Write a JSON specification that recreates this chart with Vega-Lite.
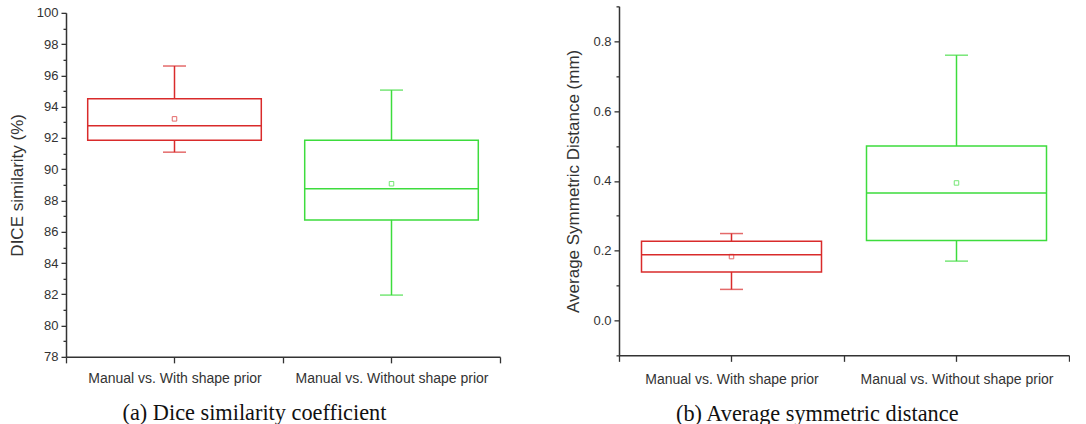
{
  "$schema": "https://vega.github.io/schema/vega-lite/v6.json",
  "background": "white",
  "padding": {"left": 8, "top": 5, "right": 0, "bottom": 0},
  "spacing": 63,
  "center": true,
  "config": {
    "view": {"stroke": null},
    "font": "Liberation Sans",
    "axis": {
      "domainColor": "#333333",
      "domainWidth": 1.5,
      "tickColor": "#333333",
      "tickWidth": 1.3,
      "grid": false,
      "labelColor": "#333333",
      "titleColor": "#333333",
      "labelFont": "Liberation Sans",
      "titleFont": "Liberation Sans",
      "titleFontWeight": "normal",
      "labelOverlap": false,
      "labelLimit": 0
    },
    "title": {"font": "Liberation Serif", "fontSize": 22.3, "fontWeight": "normal", "color": "#111111"}
  },
  "datasets": {
    "dice": [
      {"comparison": "Manual vs. With shape prior", "min": 91.09, "q1": 91.85, "median": 92.78, "q3": 94.5, "max": 96.6, "mean": 93.22},
      {"comparison": "Manual vs. Without shape prior", "min": 81.95, "q1": 86.76, "median": 88.75, "q3": 91.85, "max": 95.06, "mean": 89.07}
    ],
    "asd": [
      {"comparison": "Manual vs. With shape prior", "min": 0.089, "q1": 0.139, "median": 0.188, "q3": 0.227, "max": 0.249, "mean": 0.183},
      {"comparison": "Manual vs. Without shape prior", "min": 0.17, "q1": 0.229, "median": 0.365, "q3": 0.5, "max": 0.76, "mean": 0.394}
    ]
  },
  "hconcat": [
    {
      "width": 434,
      "height": 344,
      "data": {"name": "dice"},
      "title": {"text": "(a) Dice similarity coefficient", "orient": "bottom", "frame": "bounds", "anchor": "middle", "offset": 16},
      "resolve": {"axis": {"x": "independent"}},
      "layer": [
        {
          "mark": {"type": "rule", "strokeWidth": 1.5},
          "encoding": {
            "x": {"field": "comparison", "type": "nominal", "sort": null, "scale": {"paddingInner": 0, "paddingOuter": 0},
              "axis": {"orient": "bottom", "title": null, "labelAngle": 0, "labelFontSize": 14, "labelPadding": 9, "tickBand": "extent", "tickSize": 6}},
            "y": {"field": "min", "type": "quantitative", "scale": {"domain": [78, 100], "nice": false, "zero": false},
              "axis": {"title": "DICE similarity (%)", "titleFontSize": 17, "titlePadding": 10, "labelPadding": 3, "labelOverlap": false, "tickCount": 50,
                "values": [78,79,80,81,82,83,84,85,86,87,88,89,90,91,92,93,94,95,96,97,98,99,100],
                "labelExpr": "datum.value % 2 === 0 ? format(datum.value, 'd') : ''",
                "labelFontSize": {"condition": {"test": "datum.value % 2 === 0", "value": 13}, "value": 0.1},
                "tickSize": {"condition": {"test": "datum.value % 2 === 0", "value": 5}, "value": 3}}},
            "y2": {"field": "q1"},
            "color": {"field": "comparison", "type": "nominal", "sort": null, "scale": {"range": ["#d92b2b", "#3ddc3d"]}, "legend": null}
          }
        },
        {
          "mark": {"type": "rule", "strokeWidth": 1.5},
          "encoding": {
            "x": {"field": "comparison", "type": "nominal", "sort": null,
              "axis": {"orient": "bottom", "title": null, "labels": false, "domain": false, "tickSize": 6}},
            "y": {"field": "q3", "type": "quantitative"},
            "y2": {"field": "max"},
            "color": {"field": "comparison", "type": "nominal", "sort": null, "legend": null}
          }
        },
        {
          "mark": {"type": "tick", "size": 23, "thickness": 1.5},
          "encoding": {
            "x": {"field": "comparison", "type": "nominal", "sort": null, "axis": null},
            "y": {"field": "min", "type": "quantitative"},
            "color": {"field": "comparison", "type": "nominal", "sort": null, "legend": null}
          }
        },
        {
          "mark": {"type": "tick", "size": 23, "thickness": 1.5},
          "encoding": {
            "x": {"field": "comparison", "type": "nominal", "sort": null, "axis": null},
            "y": {"field": "max", "type": "quantitative"},
            "color": {"field": "comparison", "type": "nominal", "sort": null, "legend": null}
          }
        },
        {
          "mark": {"type": "bar", "filled": false, "strokeWidth": 1.5, "width": {"band": 0.8}},
          "encoding": {
            "x": {"field": "comparison", "type": "nominal", "sort": null, "axis": null},
            "y": {"field": "q1", "type": "quantitative"},
            "y2": {"field": "q3"},
            "color": {"field": "comparison", "type": "nominal", "sort": null, "legend": null}
          }
        },
        {
          "mark": {"type": "bar", "filled": false, "strokeWidth": 1.5, "width": {"band": 0.8}},
          "encoding": {
            "x": {"field": "comparison", "type": "nominal", "sort": null, "axis": null},
            "y": {"field": "median", "type": "quantitative"},
            "y2": {"field": "median"},
            "color": {"field": "comparison", "type": "nominal", "sort": null, "legend": null}
          }
        },
        {
          "mark": {"type": "point", "shape": "square", "size": 20, "filled": false, "strokeWidth": 1},
          "encoding": {
            "x": {"field": "comparison", "type": "nominal", "sort": null, "axis": null},
            "y": {"field": "mean", "type": "quantitative"},
            "color": {"field": "comparison", "type": "nominal", "sort": null, "legend": null}
          }
        }
      ]
    },
    {
      "width": 450,
      "height": 349,
      "data": {"name": "asd"},
      "title": {"text": "(b) Average symmetric distance", "subtitle": " ", "subtitleFontSize": 5, "subtitlePadding": 0, "orient": "bottom", "frame": "bounds", "anchor": "middle", "offset": 17},
      "resolve": {"axis": {"x": "independent"}},
      "layer": [
        {
          "mark": {"type": "rule", "strokeWidth": 1.5},
          "encoding": {
            "x": {"field": "comparison", "type": "nominal", "sort": null, "scale": {"paddingInner": 0, "paddingOuter": 0},
              "axis": {"orient": "bottom", "title": null, "labelAngle": 0, "labelFontSize": 14, "labelPadding": 11, "tickBand": "extent", "tickSize": 6}},
            "y": {"field": "min", "type": "quantitative", "scale": {"domain": [-0.1, 0.9], "nice": false, "zero": false},
              "axis": {"title": "Average Symmetric Distance (mm)", "titleFontSize": 17, "titlePadding": 10, "labelPadding": 3, "labelOverlap": false, "tickCount": 50,
                "values": [-0.1,0,0.1,0.2,0.3,0.4,0.5,0.6,0.7,0.8,0.9],
                "labelExpr": "round(datum.value * 10) % 2 === 0 ? format(datum.value, '.1f') : ''",
                "labelFontSize": {"condition": {"test": "round(datum.value * 10) % 2 === 0", "value": 13}, "value": 0.1},
                "tickSize": {"condition": {"test": "round(datum.value * 10) % 2 === 0", "value": 5}, "value": 3}}},
            "y2": {"field": "q1"},
            "color": {"field": "comparison", "type": "nominal", "sort": null, "scale": {"range": ["#d92b2b", "#3ddc3d"]}, "legend": null}
          }
        },
        {
          "mark": {"type": "rule", "strokeWidth": 1.5},
          "encoding": {
            "x": {"field": "comparison", "type": "nominal", "sort": null,
              "axis": {"orient": "bottom", "title": null, "labels": false, "domain": false, "tickSize": 6}},
            "y": {"field": "q3", "type": "quantitative"},
            "y2": {"field": "max"},
            "color": {"field": "comparison", "type": "nominal", "sort": null, "legend": null}
          }
        },
        {
          "mark": {"type": "tick", "size": 23, "thickness": 1.5},
          "encoding": {
            "x": {"field": "comparison", "type": "nominal", "sort": null, "axis": null},
            "y": {"field": "min", "type": "quantitative"},
            "color": {"field": "comparison", "type": "nominal", "sort": null, "legend": null}
          }
        },
        {
          "mark": {"type": "tick", "size": 23, "thickness": 1.5},
          "encoding": {
            "x": {"field": "comparison", "type": "nominal", "sort": null, "axis": null},
            "y": {"field": "max", "type": "quantitative"},
            "color": {"field": "comparison", "type": "nominal", "sort": null, "legend": null}
          }
        },
        {
          "mark": {"type": "bar", "filled": false, "strokeWidth": 1.5, "width": {"band": 0.8}},
          "encoding": {
            "x": {"field": "comparison", "type": "nominal", "sort": null, "axis": null},
            "y": {"field": "q1", "type": "quantitative"},
            "y2": {"field": "q3"},
            "color": {"field": "comparison", "type": "nominal", "sort": null, "legend": null}
          }
        },
        {
          "mark": {"type": "bar", "filled": false, "strokeWidth": 1.5, "width": {"band": 0.8}},
          "encoding": {
            "x": {"field": "comparison", "type": "nominal", "sort": null, "axis": null},
            "y": {"field": "median", "type": "quantitative"},
            "y2": {"field": "median"},
            "color": {"field": "comparison", "type": "nominal", "sort": null, "legend": null}
          }
        },
        {
          "mark": {"type": "point", "shape": "square", "size": 20, "filled": false, "strokeWidth": 1},
          "encoding": {
            "x": {"field": "comparison", "type": "nominal", "sort": null, "axis": null},
            "y": {"field": "mean", "type": "quantitative"},
            "color": {"field": "comparison", "type": "nominal", "sort": null, "legend": null}
          }
        }
      ]
    }
  ]
}
